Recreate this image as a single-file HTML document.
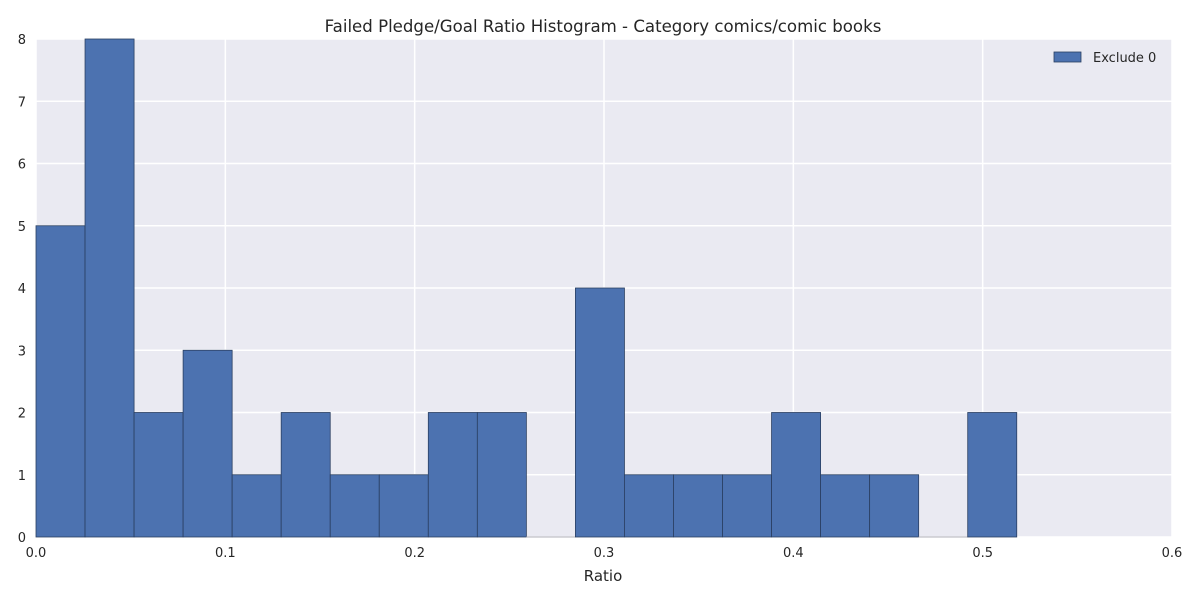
<!DOCTYPE html>
<html><head><meta charset="utf-8"><style>
body{margin:0;background:#fff;font-family:"Liberation Sans","DejaVu Sans",sans-serif;}
svg text{font-family:"DejaVu Sans","Liberation Sans",sans-serif;fill:#262626;}
</style></head><body>
<svg id="chart" width="1200" height="600"></svg>
<script>
const counts=[5,8,2,3,1,2,1,1,2,2,0,4,1,1,1,2,1,1,0,2];
const binStart=0;
const binWidth=0.0259;
const xTicks=["0.0","0.1","0.2","0.3","0.4","0.5","0.6"];
const yTicks=[0,1,2,3,4,5,6,7,8];
const L=36,R=1172,T=39,B=537;
const X=v=>L+(v-0)/(0.6)*(R-L);
const Y=v=>B-(v/8)*(B-T);
const ns="http://www.w3.org/2000/svg";
const svg=document.getElementById('chart');
function mk(t,a,p){const e=document.createElementNS(ns,t);for(const k in a)e.setAttribute(k,a[k]);(p||svg).appendChild(e);return e;}
const bg=mk('rect',{x:L,y:T,width:R-L,height:B-T,fill:'#EAEAF2'});


xTicks.forEach(t=>{const x=X(parseFloat(t));
 const g=mk('line',{x1:x,x2:x,y1:T,y2:B,stroke:'#fff','stroke-width':1.5});
 
 
 const tx=mk('text',{x:x,y:B+20,'text-anchor':'middle','font-size':13});tx.textContent=t;
 
 
});
yTicks.forEach(t=>{const y=Y(t);
 const g=mk('line',{x1:L,x2:R,y1:y,y2:y,stroke:'#fff','stroke-width':1.5});
 
 
 const tx=mk('text',{x:L-10,y:y+5,'text-anchor':'end','font-size':13});tx.textContent=t;
 
 
});
counts.forEach((c,i)=>{
 const x0=X(binStart+i*binWidth),x1=X(binStart+(i+1)*binWidth);
 if(c===0){
  const z=mk('line',{x1:x0,x2:x1,y1:Y(0),y2:Y(0),stroke:'#b0b0b8','stroke-width':1});
  
  
  return;
 }
 const r=mk('rect',{x:x0,y:Y(c),width:x1-x0,height:Y(0)-Y(c),fill:'#4C72B0',stroke:'#2a3f62','stroke-width':0.8});
 
 
});
const ti=mk('text',{x:603,y:32,'text-anchor':'middle','font-size':16.6});ti.textContent='Failed Pledge/Goal Ratio Histogram - Category comics/comic books';


const xl=mk('text',{x:603,y:581,'text-anchor':'middle','font-size':15});xl.textContent='Ratio';


const lg=mk('g',{});


mk('rect',{x:1054,y:52,width:27,height:10,fill:'#4C72B0',stroke:'#2a3f62','stroke-width':0.8},lg);
const lt=mk('text',{x:1093,y:62,'font-size':13},lg);lt.textContent='Exclude 0';
</script>
</body></html>
